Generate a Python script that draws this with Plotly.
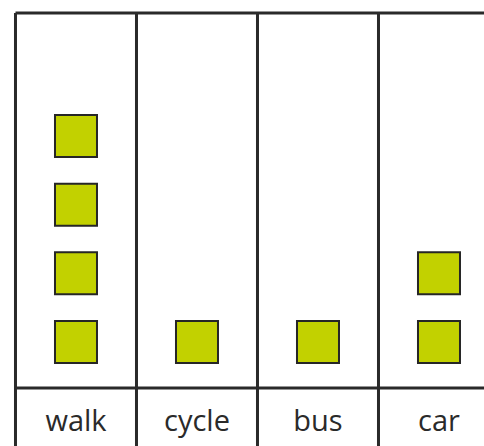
import plotly.graph_objects as go

modes = ["walk", "cycle", "bus", "car"]
counts = [4, 1, 1, 2]

# one square per pupil, stacked up from the bottom of each column
xs, ys = [], []
for i, n in enumerate(counts):
    for k in range(1, n + 1):
        xs.append(i)
        ys.append(k)

line_col = "#2a2a2a"
fig = go.Figure()

fig.add_trace(go.Scatter(
    x=xs, y=ys, mode="markers",
    marker=dict(symbol="square", size=42, color="#c2d100",
                line=dict(color="#262626", width=2)),
    hoverinfo="skip", showlegend=False,
))

fig.add_trace(go.Scatter(
    x=list(range(len(modes))), y=[-0.19] * len(modes),
    mode="text", text=modes,
    textfont=dict(family="Open Sans", size=29, color="#2a2a2a"),
    hoverinfo="skip", showlegend=False,
))

top, sep = 5.79, 0.33
shapes = []
for i in range(len(modes) + 1):
    shapes.append(dict(type="line", xref="x", yref="y", x0=i - 0.5, x1=i - 0.5,
                       y0=-1, y1=top, line=dict(color=line_col, width=3)))
for yv in (top, sep):
    shapes.append(dict(type="line", xref="x", yref="y", x0=-0.5, x1=len(modes),
                       y0=yv, y1=yv, line=dict(color=line_col, width=3)))

fig.update_layout(
    width=484, height=446,
    margin=dict(l=0, r=0, t=0, b=0),
    paper_bgcolor="white", plot_bgcolor="white",
    xaxis=dict(range=[-0.628, 3.372], visible=False, fixedrange=True),
    yaxis=dict(range=[-0.5146, 5.980], visible=False, fixedrange=True),
    shapes=shapes,
)

# drop the default page margin so the chart sits flush in the window
fig.write_html("out.html", config={"displayModeBar": False},
               post_script="document.body.style.margin='0';document.body.style.overflow='hidden';")
